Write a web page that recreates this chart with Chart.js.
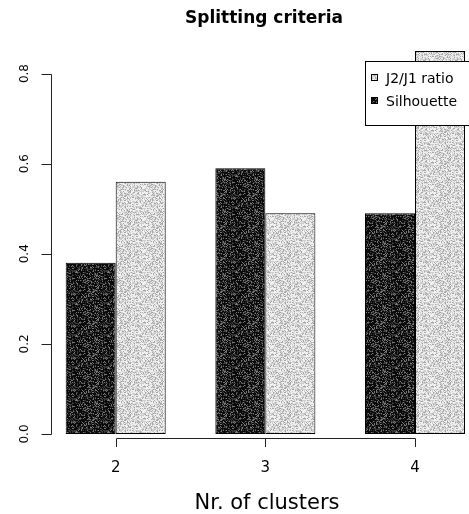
<!DOCTYPE html>
<html><head><meta charset="utf-8">
<script src="https://cdn.jsdelivr.net/npm/chart.js@4/dist/chart.umd.min.js"></script>
<style>html,body{margin:0;padding:0;background:#fff}canvas{display:block}</style>
</head><body>
<canvas id="c" width="469" height="514"></canvas>
<script>
const categories = [2, 3, 4];
const xTickLabels = ['2', '3', '4'];
const silhouette = [0.38, 0.59, 0.49];
const j2j1Ratio = [0.56, 0.49, 0.85];
const yTicks = [0, 0.2, 0.4, 0.6, 0.8];
const yTickLabels = ['0.0', '0.2', '0.4', '0.6', '0.8'];
const seriesNames = ['Silhouette', 'J2/J1 ratio'];
const chartTitle = 'Splitting criteria';
const xTitle = 'Nr. of clusters';

const FONT = '"DejaVu Sans", "Liberation Sans", sans-serif';

// deterministic dithered texture (styling only)
function hash(x, y) {
  let n = Math.imul(x, 374761393) + Math.imul(y, 668265263);
  n = Math.imul(n ^ (n >>> 13), 1274126177);
  n = n ^ (n >>> 16);
  return (n >>> 0) % 100;
}
function texture(stops) {
  const c = document.createElement('canvas');
  c.width = 32; c.height = 32;
  const g = c.getContext('2d');
  const img = g.createImageData(32, 32);
  for (let y = 0; y < 32; y++) for (let x = 0; x < 32; x++) {
    const v = hash(x + 7, y + 13);
    let lv = stops[stops.length - 1][1];
    for (const s of stops) { if (v < s[0]) { lv = s[1]; break; } }
    const i = (y * 32 + x) * 4;
    img.data[i] = img.data[i + 1] = img.data[i + 2] = lv;
    img.data[i + 3] = 255;
  }
  g.putImageData(img, 0, 0);
  return document.getElementById('c').getContext('2d').createPattern(c, 'repeat');
}
const darkFill = texture([[58, 10], [85, 60], [100, 120]]);
const lightFill = texture([[45, 240], [82, 205], [100, 165]]);

const rAxes = {
  id: 'rAxes',
  afterDraw(chart) {
    const ctx = chart.ctx, ca = chart.chartArea;
    const xs = chart.scales.x, ys = chart.scales.y;
    ctx.save();
    ctx.strokeStyle = '#222';
    ctx.fillStyle = '#000';
    ctx.lineWidth = 1;
    // y axis
    const x0 = Math.round(ca.left) + 0.5;
    const yTop = Math.round(ys.getPixelForValue(yTicks[yTicks.length - 1])) + 0.5;
    const yBot = Math.round(ys.getPixelForValue(yTicks[0])) + 0.5;
    ctx.beginPath();
    ctx.moveTo(x0, yTop); ctx.lineTo(x0, yBot);
    yTicks.forEach(v => {
      const p = Math.round(ys.getPixelForValue(v)) + 0.5;
      ctx.moveTo(x0 - 10, p); ctx.lineTo(x0, p);
    });
    ctx.stroke();
    ctx.font = '12px ' + FONT;
    ctx.textAlign = 'center';
    ctx.textBaseline = 'alphabetic';
    yTicks.forEach((v, i) => {
      const p = ys.getPixelForValue(v);
      ctx.save();
      ctx.translate(x0 - 23.5, p);
      ctx.rotate(-Math.PI / 2);
      ctx.fillText(yTickLabels[i], 0, 0);
      ctx.restore();
    });
    // x axis
    const yA = Math.round(ca.bottom) + 4.5;
    const xl = Math.round(xs.getPixelForValue(categories[0])) + 0.5;
    const xr = Math.round(xs.getPixelForValue(categories[categories.length - 1])) + 0.5;
    ctx.beginPath();
    ctx.moveTo(xl, yA); ctx.lineTo(xr, yA);
    categories.forEach(v => {
      const p = Math.round(xs.getPixelForValue(v)) + 0.5;
      ctx.moveTo(p, yA); ctx.lineTo(p, yA + 8.5);
    });
    ctx.stroke();
    ctx.font = '15px ' + FONT;
    categories.forEach((v, i) => {
      ctx.fillText(xTickLabels[i], xs.getPixelForValue(v), yA + 33);
    });
    // titles
    ctx.font = '21px ' + FONT;
    ctx.fillText(xTitle, 267, 509);
    ctx.font = 'bold 17px ' + FONT;
    ctx.fillText(chartTitle, 264, 23);
    // legend (drawn over bars)
    const bx = 365.5, by = 61.5, bw = 140, bh = 64;
    ctx.fillStyle = '#fff';
    ctx.fillRect(bx, by, bw, bh);
    ctx.strokeStyle = '#000';
    ctx.strokeRect(bx, by, bw, bh);
    const ds = chart.data.datasets.slice().reverse();
    ctx.font = '14px ' + FONT;
    ctx.textAlign = 'left';
    ctx.textBaseline = 'middle';
    ds.forEach((d, i) => {
      const cy = 78 + i * 23;
      ctx.fillStyle = d.backgroundColor;
      ctx.fillRect(371, cy - 4, 7, 7);
      ctx.strokeStyle = '#000';
      ctx.strokeRect(371.5, cy - 3.5, 6, 6);
      ctx.fillStyle = '#000';
      ctx.fillText(d.label, 386, cy + 1);
    });
    ctx.restore();
  }
};

new Chart(document.getElementById('c'), {
  type: 'bar',
  data: {
    datasets: [
      { label: seriesNames[0], data: categories.map((c, i) => ({ x: c, y: silhouette[i] })),
        backgroundColor: darkFill, borderColor: '#000', borderWidth: 1, borderSkipped: false },
      { label: seriesNames[1], data: categories.map((c, i) => ({ x: c, y: j2j1Ratio[i] })),
        backgroundColor: lightFill, borderColor: '#000', borderWidth: 1, borderSkipped: false }
    ]
  },
  options: {
    responsive: false,
    animation: false,
    devicePixelRatio: 1,
    layout: { padding: { left: 51, right: 0, top: 46.5, bottom: 80 } },
    categoryPercentage: 0.6683,
    barPercentage: 1,
    scales: {
      x: { type: 'linear', display: false, offset: false, bounds: 'data', grace: 0,
           min: 1.5677, max: 4.3608,
           afterBuildTicks: s => { s.ticks = categories.map(v => ({ value: v })); } },
      y: { type: 'linear', display: false, min: 0, max: 0.86 }
    },
    plugins: { legend: { display: false }, title: { display: false }, tooltip: { enabled: false } }
  },
  plugins: [rAxes]
});
</script>
</body></html>
